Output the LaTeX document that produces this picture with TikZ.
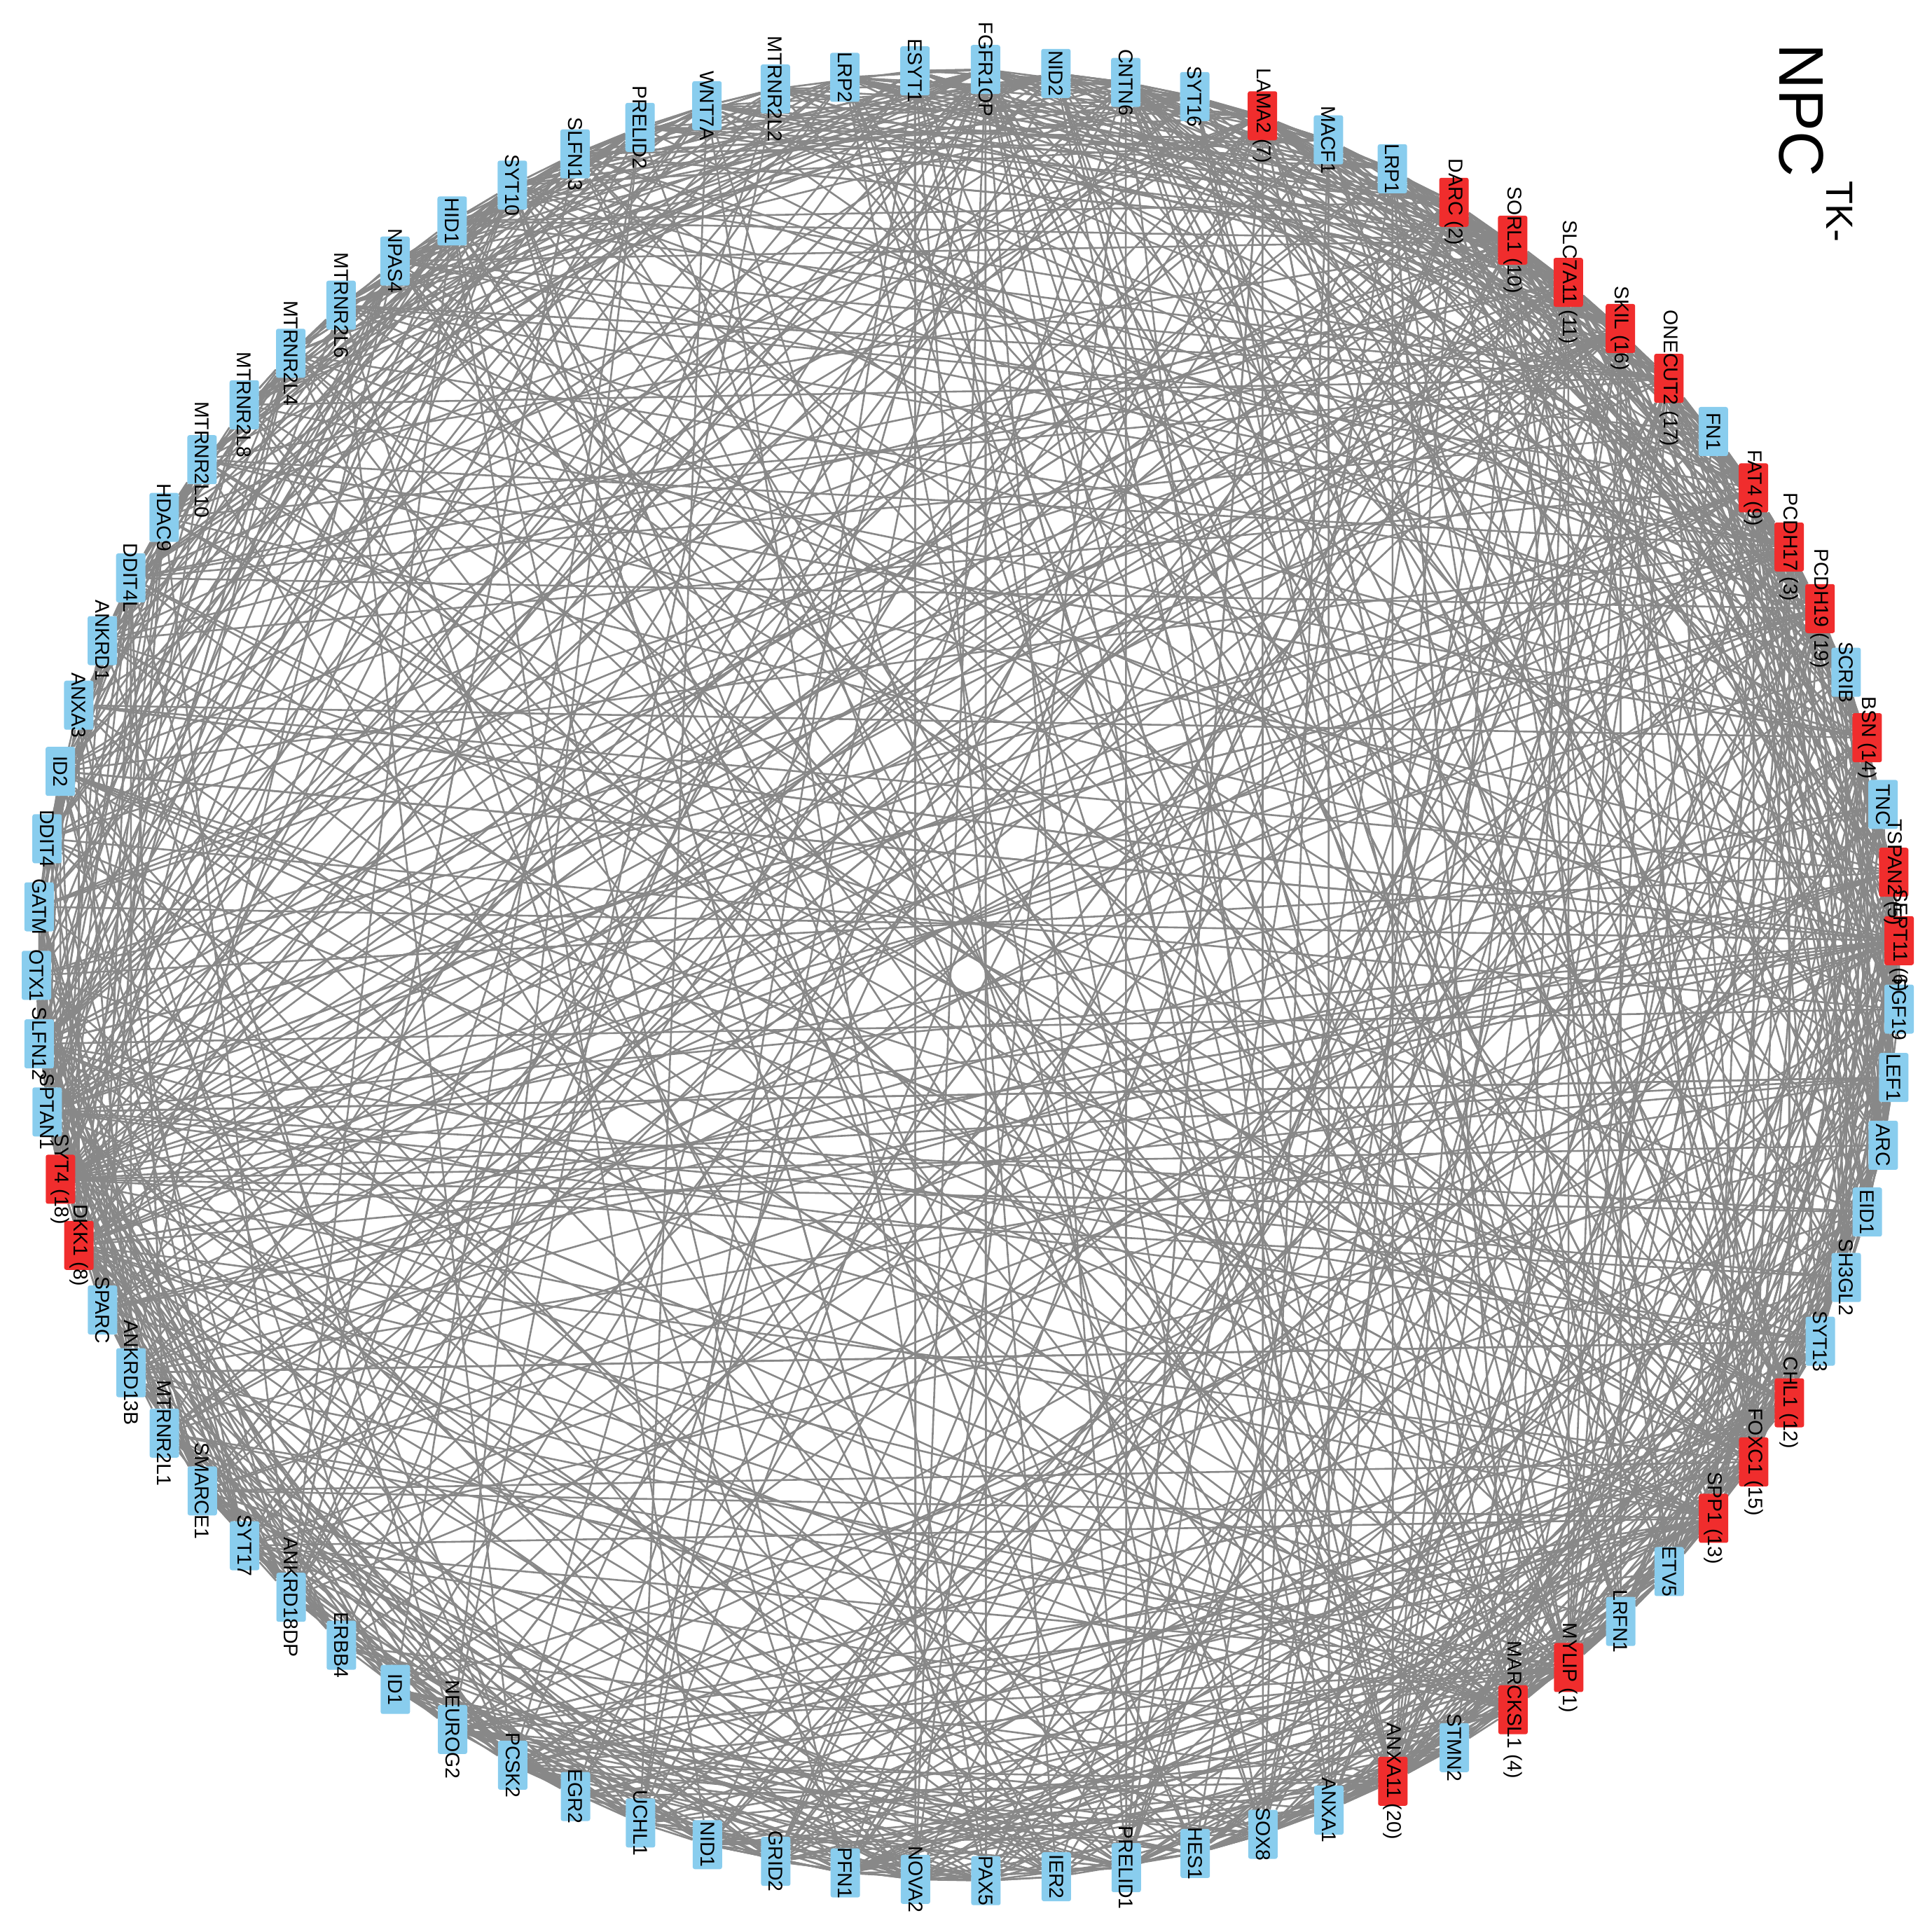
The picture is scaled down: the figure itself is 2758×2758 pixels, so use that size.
\documentclass[tikz,border=0pt]{standalone}
\usepackage{fontspec}
\setmainfont{Liberation Sans}
\pgfdeclarelayer{edges}
\pgfsetlayers{edges,main}
\definecolor{nb}{RGB}{137,205,238}
\definecolor{nr}{RGB}{240,45,45}
\definecolor{eg}{RGB}{136,136,136}
\tikzset{
  gbox/.style={rectangle, rounded corners=3pt, minimum width=42pt, minimum height=70pt, inner sep=0pt, draw=none},
  glabel/.style={rotate=-90, font=\fontsize{28.5}{30}\selectfont, inner sep=0pt, text=black},
  edgeline/.style={draw=eg, line width=2.6pt},
}
\def\nodelist{FGFR1OP/nb, NID2/nb, CNTN6/nb, SYT16/nb, LAMA2 (7)/nr, MACF1/nb, LRP1/nb, DARC (2)/nr, SORL1 (10)/nr, SLC7A11 (11)/nr, SKIL (16)/nr, ONECUT2 (17)/nr, FN1/nb, FAT4 (9)/nr, PCDH17 (3)/nr, PCDH19 (19)/nr, SCRIB/nb, BSN (14)/nr, TNC/nb, TSPAN2 (5)/nr, SEPT11 (6)/nr, FGF19/nb, LEF1/nb, ARC/nb, EID1/nb, SH3GL2/nb, SYT13/nb, CHL1 (12)/nr, FOXC1 (15)/nr, SPP1 (13)/nr, ETV5/nb, LRFN1/nb, MYLIP (1)/nr, MARCKSL1 (4)/nr, STMN2/nb, ANXA11 (20)/nr, ANXA1/nb, SOX8/nb, HES1/nb, PRELID1/nb, IER2/nb, PAX5/nb, NOVA2/nb, PFN1/nb, GRID2/nb, NID1/nb, UCHL1/nb, EGR2/nb, PCSK2/nb, NEUROG2/nb, ID1/nb, ERBB4/nb, ANKRD18DP/nb, SYT17/nb, SMARCE1/nb, MTRNR2L1/nb, ANKRD13B/nb, SPARC/nb, DKK1 (8)/nr, SYT4 (18)/nr, SPTAN1/nb, SLFN12/nb, OTX1/nb, GATM/nb, DDIT4/nb, ID2/nb, ANXA3/nb, ANKRD1/nb, DDIT4L/nb, HDAC9/nb, MTRNR2L10/nb, MTRNR2L8/nb, MTRNR2L4/nb, MTRNR2L6/nb, NPAS4/nb, HID1/nb, SYT10/nb, SLFN13/nb, PRELID2/nb, WNT7A/nb, MTRNR2L2/nb, LRP2/nb, ESYT1/nb}
\begin{document}
\begin{tikzpicture}[x=1pt,y=1pt]
\useasboundingbox (0,0) rectangle (2758,2758);
% node boxes
\foreach \nm/\col [count=\k from 0] in \nodelist {
  \pgfmathsetmacro{\t}{88.93-\k*4.337349}
  \path (1382,1366) ++(\t:1330 and 1293) node[gbox, fill=\col] (n\k) {};
}
% labels
\foreach \nm/\col [count=\k from 0] in \nodelist {
  \node[glabel] (l\k) at (n\k) {\nm};
}
% title
\node[rotate=-90, anchor=base west, inner sep=0pt] (title) at (2540,2696)
  {\fontsize{90}{90}\selectfont NPC\hspace{6pt}\raisebox{67pt}{\fontsize{54}{54}\selectfont TK-}};
% edges
\pgfmathsetseed{7}
\begin{pgfonlayer}{edges}
\foreach \i in {0,...,82}{
  \foreach \r in {1,...,4}{
    \pgfmathrandominteger{\d}{1}{82}
    \pgfmathtruncatemacro{\j}{mod(\i+\d,83)}
    \draw[edgeline] (n\i) -- (n\j);
  }
  \foreach \r in {1,...,6}{
    \pgfmathrandominteger{\d}{1}{13}
    \pgfmathtruncatemacro{\j}{mod(\i+\d,83)}
    \draw[edgeline] (n\i) -- (n\j);
  }
}
\foreach \i in {4,7,8,9,10,11,13,14,15,17,19,20,27,28,29,32,33,35,58,59,0,2,60,61}{
  \foreach \r in {1,...,20}{
    \pgfmathrandominteger{\d}{3}{80}
    \pgfmathtruncatemacro{\j}{mod(\i+\d,83)}
    \draw[edgeline] (n\i) -- (n\j);
  }
}
\end{pgfonlayer}
\end{tikzpicture}
\end{document}
